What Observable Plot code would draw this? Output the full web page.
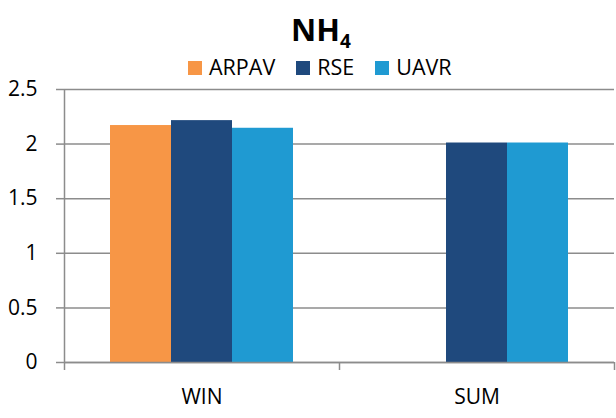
<!DOCTYPE html>
<html>
<head>
<meta charset="utf-8">
<script src="https://cdn.jsdelivr.net/npm/d3@7"></script>
<script src="https://cdn.jsdelivr.net/npm/@observablehq/plot@0.6"></script>
<style>
  body { margin: 0; background: #fff; font-family: "Open Sans", sans-serif; }
  #wrap { width: 616px; }
  #header { position: relative; width: 616px; height: 60px; }
  #title { position: absolute; left: 0; top: 14px; width: 616px; text-align: center;
           font: bold 31px/31px "Open Sans", sans-serif; color: #000; transform: translateX(13px); }
  #title .sub { font-size: 19px; position: relative; top: 7px; }
  #legend { position: absolute; left: 188px; top: 56px; display: flex; align-items: center;
            font: 21.5px/21px "Open Sans", sans-serif; color: #000; z-index: 2; }
  #legend .item { display: flex; align-items: center; margin-right: 21px; }
  #legend .sw { width: 14px; height: 14px; margin-right: 7px; margin-top: 2px; }
  #chart { position: relative; z-index: 1; }
</style>
</head>
<body>
<div id="wrap">
  <div id="header">
    <div id="title">NH<span class="sub">4</span></div>
    <div id="legend"></div>
  </div>
  <div id="chart"></div>
</div>
<script>
const categories = ["WIN", "SUM"];
const series = ["ARPAV", "RSE", "UAVR"];
const colors = ["#F79646", "#1F497D", "#1F9AD2"];
const winValues = [2.17, 2.215, 2.145];
const sumValues = [null, 2.01, 2.01];
const yTicks = [0, 0.5, 1, 1.5, 2, 2.5];

// build table
const valuesByCategory = [winValues, sumValues];
const data = [];
categories.forEach((c, ci) => {
  series.forEach((s, sj) => {
    const v = valuesByCategory[ci][sj];
    if (v != null) data.push({category: c, ci, series: s, sj, value: v});
  });
});

// legend
const legend = document.getElementById("legend");
series.forEach((s, i) => {
  const item = document.createElement("div");
  item.className = "item";
  const sw = document.createElement("div");
  sw.className = "sw";
  sw.style.background = colors[i];
  const t = document.createElement("span");
  t.textContent = s;
  item.appendChild(sw); item.appendChild(t);
  legend.appendChild(item);
});

// layout constants (fractions of a category band)
const barW = 0.2218;
const groupPad = (1 - 3 * barW) / 2;
const gray = "#8c8c8c";

const chart = Plot.plot({
  width: 616,
  height: 358,
  marginLeft: 64,
  marginRight: 2,
  marginTop: 29,
  marginBottom: 56,
  style: {fontFamily: "Open Sans, sans-serif", fontSize: "21px", color: "#000", background: "transparent"},
  x: {type: "linear", domain: [0, categories.length], axis: null, label: null},
  y: {domain: [0, 2.5], axis: null, label: null},
  color: {domain: series, range: colors},
  marks: [
    Plot.gridY(yTicks, {stroke: gray, strokeOpacity: 1, strokeWidth: 1.5}),
    Plot.rectY(data, {
      x1: d => d.ci + groupPad + d.sj * barW,
      x2: d => d.ci + groupPad + (d.sj + 1) * barW,
      y: "value",
      fill: "series"
    }),
    Plot.ruleX([0], {stroke: gray, strokeWidth: 1.5}),
    Plot.ruleY([0], {stroke: gray, strokeWidth: 1.5}),
    Plot.axisY(yTicks, {tickSize: 8, tickPadding: 19, stroke: gray, strokeWidth: 1.5, fill: "#000",
      tickFormat: d => String(d), fontSize: 21, label: null}),
    Plot.axisX(d3.range(categories.length + 1), {tickSize: 8, stroke: gray, strokeWidth: 1.5,
      tickFormat: () => "", label: null}),
    Plot.axisX(categories.map((c, i) => i + 0.5), {tickSize: 0, tickPadding: 27, fill: "#000",
      fontSize: 21, tickFormat: d => categories[Math.floor(d)], label: null})
  ]
});
document.getElementById("chart").appendChild(chart);
</script>
</body>
</html>
